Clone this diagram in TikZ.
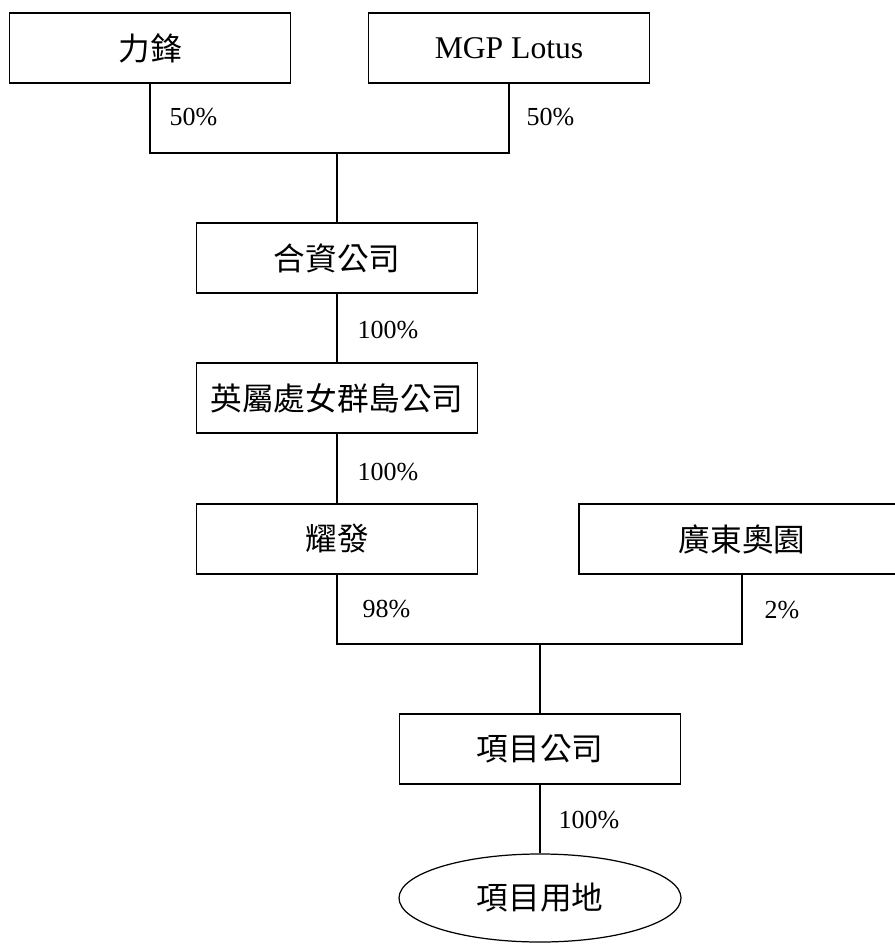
\documentclass[tikz,border=0pt]{standalone}
\usepackage{fontspec}
\setmainfont{Liberation Serif}
\newfontfamily\cjk{Noto Sans CJK TC}
\usetikzlibrary{shapes.geometric}
\begin{document}
\begin{tikzpicture}[
  firm/.style={draw, line width=0.35pt, minimum width=2.81cm, minimum height=0.7cm, inner sep=0pt, font=\fontsize{9}{11}\selectfont\cjk},
  share/.style={anchor=west, inner sep=0pt, font=\fontsize{7.4}{9}\selectfont},
  link/.style={line width=0.35pt}]
\useasboundingbox (0,0) rectangle (8.94,-9.45);
\node[firm] (lifeng) at (1.50,-0.48) {力鋒};
\node[firm, font=\fontsize{9}{11}\selectfont] (mgp) at (5.09,-0.48) {MGP Lotus};
\node[firm] (jv) at (3.37,-2.58) {合資公司};
\node[firm] (bvi) at (3.37,-3.98) {英屬處女群島公司};
\node[firm] (yaofa) at (3.37,-5.39) {耀發};
\node[firm, minimum width=3.26cm] (gd) at (7.42,-5.39) {廣東奧園};
\node[firm] (proj) at (5.40,-7.49) {項目公司};
\node[firm, ellipse, minimum width=2.82cm, minimum height=0.88cm] (site) at (5.40,-8.98) {項目用地};
\coordinate (jvjoin) at (3.37,-1.53);
\coordinate (projjoin) at (5.40,-6.44);
\draw[link] (lifeng.south) |- (jvjoin) -| (mgp.south);
\draw[link] (jvjoin) -- (jv.north);
\draw[link] (jv) -- (bvi);
\draw[link] (bvi) -- (yaofa);
\draw[link] (yaofa.south) |- (projjoin) -| (gd.south);
\draw[link] (projjoin) -- (proj.north);
\draw[link] (proj) -- (site);
\node[share] (lifengpct) at (1.69,-1.17) {50\%};
\node[share] (mgppct) at (5.26,-1.17) {50\%};
\node[share] (jvpct) at (3.57,-3.30) {100\%};
\node[share] (bvipct) at (3.57,-4.72) {100\%};
\node[share] (yaofapct) at (3.62,-6.09) {98\%};
\node[share] (gdpct) at (7.64,-6.10) {2\%};
\node[share] (projpct) at (5.58,-8.20) {100\%};
\end{tikzpicture}
\end{document}
